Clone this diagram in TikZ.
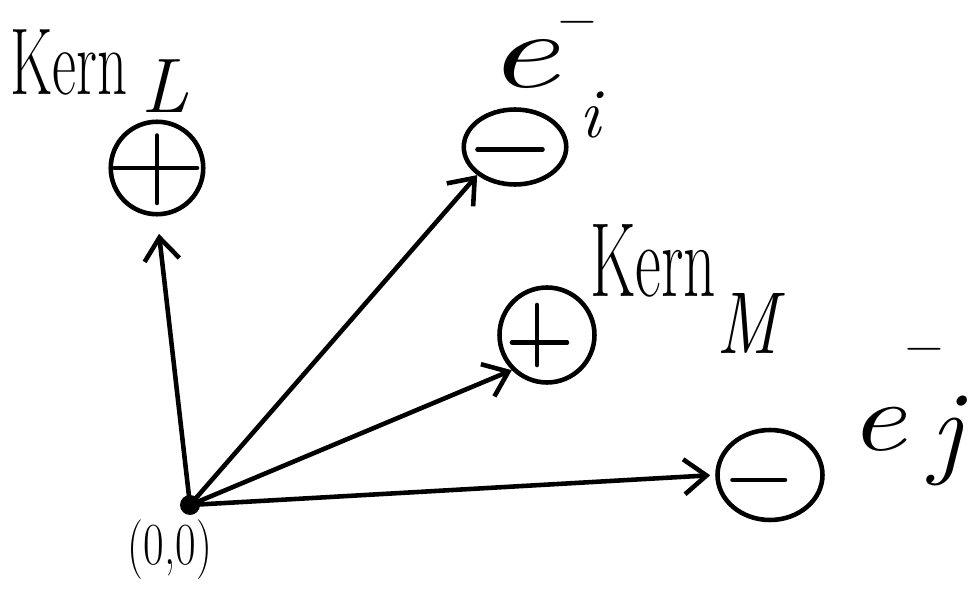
\documentclass[tikz,border=0pt]{standalone}
\usepackage{fontspec}
\usepackage{graphicx}
\usetikzlibrary{arrows.meta,shapes.geometric}
\newcommand{\fs}[1]{\fontsize{#1}{#1}\selectfont}
\begin{document}
\begin{tikzpicture}[x=0.02cm,y=-0.02cm,
  pen/.style={line width=2.6pt, line cap=round, line join=round},
  charge/.style={pen, draw, circle, minimum size=#1},
  vec/.style={pen, -{Straight Barb[length=4.5mm,width=7mm,line width=2.6pt]}},
  lbl/.style={inner sep=0pt, anchor=base west}]
\useasboundingbox (0,0) rectangle (977,594);
% origin
\node[fill, circle, inner sep=0pt, minimum size=0.4cm] (o) at (190,505) {};
\node[inner sep=0pt] (olbl) at (170,550) {\scalebox{0.75}[1]{\fs{34}(0,0)}};
% charges
\node[charge=1.85cm] (kl) at (157,168) {};
\draw[pen] ([xshift=-0.85cm]kl.center) -- ([xshift=0.8cm]kl.center);
\draw[pen] ([yshift=0.65cm]kl.center) -- ([yshift=-0.7cm]kl.center);
\node[pen, draw, ellipse, minimum width=2.05cm, minimum height=1.5cm, inner sep=0pt] (ei) at (515,147) {};
\draw[pen] ([xshift=-0.75cm,yshift=-0.05cm]ei.center) -- ([xshift=0.55cm,yshift=-0.05cm]ei.center);
\node[charge=1.9cm] (km) at (547,335) {};
\draw[pen] ([xshift=-0.7cm,yshift=-0.15cm]km.center) -- ([xshift=0.4cm,yshift=-0.15cm]km.center);
\draw[pen] ([xshift=-0.2cm,yshift=0.6cm]km.center) -- ([xshift=-0.2cm,yshift=-0.6cm]km.center);
\node[pen, draw, ellipse, minimum width=2.1cm, minimum height=1.8cm, inner sep=0pt] (ej) at (770,475) {};
\draw[pen] ([xshift=-0.75cm,yshift=-0.1cm]ej.center) -- ([xshift=0.3cm,yshift=-0.1cm]ej.center);
% labels
\node[lbl] (tkl) at (10,95) {\scalebox{0.62}[1]{\fs{54}Kern}\hspace{8pt}\raisebox{-10pt}{\fs{44}\itshape L}};
\node[lbl] (tei) at (485,88) {\scalebox{1.5}[1]{\fs{62}\itshape e}\rlap{\raisebox{30pt}{\fs{30}−}}\hspace{12pt}\raisebox{-28pt}{\fs{40}\itshape i}};
\node[lbl] (tkm) at (590,297) {\scalebox{0.6}[1]{\fs{60}Kern}\raisebox{-32pt}{\scalebox{0.8}[1]{\fs{50}\itshape M}}};
\node[lbl] (tej) at (848,450) {\scalebox{1.3}[1]{\fs{56}\itshape e}\rlap{\raisebox{50pt}{\fs{30}−}}\hspace{14pt}\raisebox{-8pt}{\fs{60}\itshape j}};
% vectors
\draw[vec, shorten >=0.35cm] (o.center) -- (kl.south);
\draw[vec] (o.center) -- (ei.south west);
\draw[vec] (o.center) -- (km.south west);
\draw[vec, shorten >=0.1cm] (o.center) -- (ej.west);
\end{tikzpicture}
\end{document}
